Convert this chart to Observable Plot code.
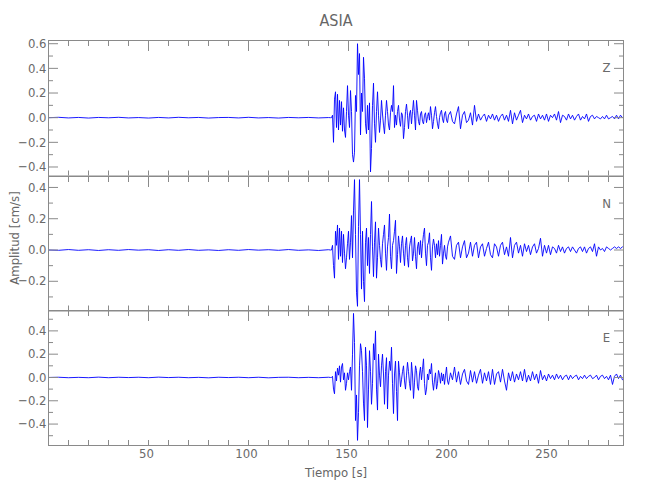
<!DOCTYPE html>
<html><head><meta charset="utf-8">
<script src="https://cdn.jsdelivr.net/npm/d3@7"></script>
<script src="https://cdn.jsdelivr.net/npm/@observablehq/plot@0.6"></script>
<style>
body{margin:0;background:#fff;}
#wrap{position:relative;width:650px;height:500px;font-family:"Liberation Sans Narrow","DejaVu Sans Condensed",sans-serif;color:#666;}
.abs{position:absolute;white-space:nowrap;}
.panel{position:absolute;left:0;}
</style></head><body><div id="wrap"></div>
<script>
// ---- data ----
const title = "ASIA";
const components = ["Z", "N", "E"];
const xLabel = "Tiempo [s]";
const yLabel = "Amplitud [cm/s]";

// sampling grids (seconds)
const preStart = 0, preStep = 5;      // 0 .. 140
const earlyStart = 141, earlyStep = 0.5; // 141 .. 199.5
const codaStart = 200, codaStep = 1;   // 200 .. 287

const zPre = [0, 0.003, -0.002, 0.002, -0.003, 0.002, -0.001, 0.003, -0.002, 0.001,
  -0.003, 0.002, -0.002, 0.003, -0.001, 0.002, -0.003, 0.001, 0.002, -0.002,
  0.003, -0.002, 0.001, -0.003, 0.002, -0.001, 0.002, -0.002, 0.001];
const nPre = [0, -0.002, 0.003, -0.002, 0.002, -0.003, 0.002, -0.002, 0.003, -0.001,
  0.002, -0.003, 0.002, -0.002, 0.003, -0.002, 0.001, -0.003, 0.002, -0.002,
  0.003, -0.001, 0.002, -0.002, 0.003, -0.002, 0.001, -0.003, 0.002];
const ePre = [0, 0.002, -0.002, 0.001, -0.002, 0.003, -0.002, 0.002, -0.001, 0.002,
  -0.002, 0.003, -0.001, 0.002, -0.002, 0.001, -0.003, 0.002, -0.001, 0.002,
  -0.002, 0.002, -0.003, 0.001, 0.002, -0.002, 0.001, -0.002, 0.002];

const zEarly = [
  0.00, 0.00, 0.02, -0.20, 0.15, 0.21, -0.08, 0.19, -0.10, 0.14,
  -0.06, 0.13, -0.11, 0.08, -0.10, -0.16, 0.05, 0.26, 0.02, -0.08,
  0.22, 0.05, -0.30, -0.36, -0.28, 0.18, 0.05, 0.60, 0.35, 0.52,
  -0.14, 0.20, 0.05, 0.49, 0.32, -0.05, -0.13, 0.10, -0.10, 0.12,
  -0.44, -0.25, 0.10, 0.28, -0.05, -0.20, 0.05, 0.21, 0.02, -0.12,
  -0.02, 0.14, 0.03, -0.06, -0.13, 0.02, 0.14, 0.05, -0.06, -0.10,
  0.04, 0.10, 0.05, 0.26, -0.08, 0.02, -0.06, 0.05, 0.10, -0.02,
  -0.07, 0.04, 0.02, -0.17, -0.08, 0.05, 0.11, 0.02, -0.09, 0.03,
  0.06, -0.05, 0.05, 0.14, 0.02, -0.10, 0.14, 0.06, -0.03, -0.06,
  0.03, 0.05, -0.03, -0.05, 0.02, 0.04, -0.04, 0.01, 0.04, -0.02,
  0.09, 0.02, -0.09, -0.03, 0.04, 0.09, 0.01, -0.05, -0.09, 0.00,
  0.04, 0.06, -0.01, -0.04, 0.03, 0.05, -0.02, -0.04];
const nEarly = [
  0.00, 0.00, 0.03, -0.10, -0.18, 0.12, 0.03, 0.16, -0.06, 0.14,
  -0.04, 0.12, -0.08, 0.10, -0.02, -0.12, -0.05, 0.04, 0.12, -0.06,
  0.05, 0.22, -0.05, 0.25, 0.45, 0.10, -0.27, -0.36, 0.15, 0.45,
  0.10, -0.25, 0.12, -0.20, -0.33, 0.05, 0.14, -0.10, 0.08, -0.15,
  0.10, 0.31, 0.02, -0.17, 0.05, 0.18, -0.18, -0.05, 0.14, 0.03,
  -0.06, -0.11, 0.04, 0.10, 0.16, -0.02, -0.13, 0.02, 0.08, 0.23,
  -0.04, -0.12, 0.03, 0.06, 0.12, 0.19, -0.15, -0.03, 0.09, 0.02,
  -0.08, 0.04, 0.09, -0.02, -0.10, 0.03, 0.08, -0.05, -0.11, 0.02,
  0.06, 0.09, -0.07, -0.02, 0.08, -0.04, -0.12, 0.02, 0.05, -0.03,
  0.06, -0.05, 0.04, 0.10, 0.14, -0.02, -0.10, 0.03, 0.05, 0.11,
  -0.05, -0.13, 0.02, 0.07, 0.03, -0.05, 0.04, -0.03, 0.06, -0.04,
  0.03, 0.10, -0.09, -0.02, 0.03, -0.04, -0.06, 0.02];
const eEarly = [
  0.00, 0.00, 0.01, -0.10, -0.14, 0.05, -0.03, 0.08, 0.02, 0.10,
  -0.04, 0.09, 0.12, -0.02, 0.04, -0.11, -0.05, 0.04, -0.02, 0.05,
  0.09, -0.11, 0.20, 0.55, 0.30, -0.37, -0.15, -0.54, -0.30, 0.10,
  0.29, 0.23, 0.05, -0.22, -0.37, 0.26, 0.10, -0.43, -0.10, 0.23,
  0.05, -0.23, -0.05, 0.29, 0.15, 0.40, -0.10, -0.28, 0.20, 0.02,
  -0.08, 0.10, 0.20, 0.03, -0.23, 0.05, 0.17, -0.27, 0.02, 0.14,
  0.06, 0.26, -0.05, -0.31, 0.03, 0.14, -0.12, -0.37, 0.14, 0.04,
  -0.08, -0.02, 0.05, 0.10, -0.03, -0.10, 0.02, 0.13, 0.05, -0.05,
  -0.11, 0.13, 0.03, -0.18, -0.04, 0.10, 0.06, -0.08, -0.11, 0.03,
  0.09, -0.02, 0.07, 0.16, -0.05, -0.15, -0.10, 0.03, -0.02, 0.07,
  0.03, 0.12, -0.04, -0.11, -0.02, 0.04, -0.10, -0.05, 0.06, 0.02,
  -0.05, 0.04, -0.03, 0.03, -0.06, 0.02, 0.09, -0.03];

const zCoda = [
  0.02, 0.05, -0.03, -0.05, 0.03, 0.09, -0.09, 0.02, 0.05, -0.04,
  -0.02, 0.04, -0.06, 0.10, -0.03, 0.03, -0.02, 0.01, 0.03, -0.03,
  0.02, -0.01, 0.03, -0.02, 0.02, -0.03, 0.01, 0.03, -0.02, 0.02,
  -0.03, 0.06, -0.05, 0.04, -0.02, 0.02, 0.06, -0.04, 0.02, -0.01,
  0.03, -0.02, 0.01, 0.02, -0.03, 0.03, -0.01, 0.02, -0.02, 0.03,
  -0.03, 0.02, 0.00, 0.03, -0.02, 0.05, -0.04, 0.02, 0.01, -0.02,
  0.03, -0.01, 0.02, -0.02, 0.01, 0.03, -0.02, 0.01, -0.01, 0.03,
  -0.03, 0.01, 0.02, -0.01, 0.01, 0.00, -0.01, 0.01, -0.01, 0.02,
  -0.01, 0.00, 0.01, -0.01, 0.02, -0.01, 0.02, 0.00];
const nCoda = [
  0.05, 0.09, -0.04, -0.06, 0.03, 0.05, -0.05, 0.02, 0.06, -0.05,
  -0.02, 0.05, -0.04, 0.03, 0.05, -0.05, 0.02, 0.04, -0.04, 0.01,
  0.05, -0.03, -0.05, 0.04, 0.02, -0.04, 0.03, 0.05, -0.03, 0.02,
  -0.04, 0.08, -0.05, 0.03, 0.05, -0.02, 0.03, -0.04, 0.04, -0.01,
  0.03, -0.03, 0.02, 0.04, -0.02, 0.01, 0.075, -0.04, 0.03, -0.02,
  0.03, -0.03, 0.02, 0.01, -0.02, 0.03, -0.01, 0.02, -0.02, 0.01,
  0.02, -0.01, 0.02, 0.00, -0.02, 0.01, 0.02, -0.01, 0.02, -0.02,
  0.01, 0.02, -0.01, 0.04, -0.04, 0.02, 0.00, 0.01, -0.01, 0.02,
  0.01, 0.00, 0.01, 0.02, 0.01, 0.02, 0.01, 0.02];
const eCoda = [
  -0.06, 0.04, -0.02, 0.09, -0.04, 0.05, -0.06, 0.03, 0.07, -0.03,
  -0.06, 0.06, -0.04, 0.05, -0.05, 0.02, 0.07, -0.05, 0.04, -0.03,
  0.05, -0.06, 0.07, -0.06, 0.03, 0.05, -0.04, 0.07, -0.03, -0.11,
  0.04, -0.03, 0.05, -0.04, 0.03, -0.02, 0.05, -0.03, 0.07, -0.04,
  0.02, -0.03, 0.05, -0.02, 0.03, -0.05, 0.06, -0.02, 0.02, -0.03,
  0.03, -0.01, 0.02, -0.02, 0.03, -0.01, 0.02, -0.02, 0.01, 0.02,
  -0.02, 0.02, -0.01, 0.01, 0.02, -0.02, 0.01, -0.01, 0.02, -0.01,
  0.01, 0.02, -0.01, 0.00, 0.02, -0.02, 0.01, 0.02, -0.01, 0.01,
  -0.02, 0.02, -0.06, 0.01, 0.03, -0.01, 0.02, -0.02];

// tick values
const xMajorTicks = [50, 100, 150, 200, 250];
const xMinorTicks = [10, 20, 30, 40, 60, 70, 80, 90, 110, 120, 130, 140, 160, 170, 180, 190, 210, 220, 230, 240, 260, 270, 280];
const yMajorTicks = [
  [-0.4, -0.2, 0.0, 0.2, 0.4, 0.6],
  [-0.2, 0.0, 0.2, 0.4],
  [-0.4, -0.2, 0.0, 0.2, 0.4]];
const yMinorTicks = [
  [-0.3, -0.1, 0.1, 0.3, 0.5],
  [-0.3, -0.1, 0.1, 0.3],
  [-0.5, -0.3, -0.1, 0.1, 0.3, 0.5]];

// scale domains
const xDomain = [0, 287.5];
const yDomains = [[-0.473, 0.626], [-0.39, 0.47], [-0.584, 0.575]];

// ---- layout ----
const panelTop = [40, 175.5, 310];
const panelHeight = [135.5, 134.5, 135];
const FONT = '"Liberation Sans Narrow","DejaVu Sans Condensed",sans-serif';
const INK = "#6a6a6a";

function series(pre, early, coda) {
  const rows = [];
  pre.forEach((v, i) => rows.push({t: preStart + i * preStep, v}));
  early.forEach((v, i) => rows.push({t: earlyStart + i * earlyStep, v}));
  coda.forEach((v, i) => rows.push({t: codaStart + i * codaStep, v}));
  return rows;
}
const traces = [series(zPre, zEarly, zCoda), series(nPre, nEarly, nCoda), series(ePre, eEarly, eCoda)];

const wrap = document.getElementById("wrap");
const fmt = d3.format(".1f");
const blank = () => "";

components.forEach((comp, i) => {
  const last = i === 2;
  const mt = 6, mb = last ? 40 : 6;
  const marks = [
    Plot.line(traces[i], {x: "t", y: "v", stroke: "#0000ff", strokeWidth: 0.9, clip: true}),
    Plot.frame({stroke: "#8a8a8a"}),
    // y ticks (inward, both sides)
    Plot.axisY(yMajorTicks[i], {anchor: "left", tickSize: -10, tickFormat: blank, label: null, stroke: "#8a8a8a"}),
    Plot.axisY(yMinorTicks[i], {anchor: "left", tickSize: -5, tickFormat: blank, label: null, stroke: "#8a8a8a"}),
    Plot.axisY(yMajorTicks[i], {anchor: "right", tickSize: -10, tickFormat: blank, label: null, stroke: "#8a8a8a"}),
    Plot.axisY(yMinorTicks[i], {anchor: "right", tickSize: -5, tickFormat: blank, label: null, stroke: "#8a8a8a"}),
    Plot.axisY(yMajorTicks[i], {anchor: "left", tickSize: 0, tickPadding: 2, tickFormat: fmt, label: null, fill: INK}),
    // x ticks (inward, top and bottom)
    Plot.axisX(xMajorTicks, {anchor: "top", tickSize: -10, tickFormat: blank, label: null, stroke: "#8a8a8a"}),
    Plot.axisX(xMinorTicks, {anchor: "top", tickSize: -5, tickFormat: blank, label: null, stroke: "#8a8a8a"}),
    Plot.axisX(xMajorTicks, {anchor: "bottom", tickSize: -5, tickFormat: blank, label: null, stroke: "#8a8a8a"}),
    Plot.axisX(xMinorTicks, {anchor: "bottom", tickSize: -5, tickFormat: blank, label: null, stroke: "#8a8a8a"}),
    Plot.text([comp], {frameAnchor: "top-right", dx: -17, dy: 22, text: d => d, textAnchor: "middle", fontSize: 13, fill: INK})
  ];
  if (last) marks.push(Plot.axisX(xMajorTicks, {anchor: "bottom", tickSize: 0, tickPadding: 3, dx: -2, tickFormat: d => String(d), label: null, fill: INK}));
  const chart = Plot.plot({
    width: 650,
    height: mt + panelHeight[i] + mb,
    marginLeft: 48, marginRight: 27, marginTop: mt, marginBottom: mb,
    x: {domain: xDomain},
    y: {domain: yDomains[i]},
    style: {background: "transparent", overflow: "visible", fontFamily: FONT, fontSize: "13px", color: INK},
    marks
  });
  chart.classList.add("panel");
  chart.style.top = (panelTop[i] - mt) + "px";
  wrap.appendChild(chart);
});

function addText(txt, x, y, size, rotate) {
  const d = document.createElement("div");
  d.className = "abs";
  d.textContent = txt;
  d.style.fontSize = size + "px";
  d.style.left = x + "px";
  d.style.top = y + "px";
  d.style.lineHeight = "1";
  d.style.transform = "translate(-50%,-50%)" + (rotate ? " rotate(-90deg)" : "");
  wrap.appendChild(d);
}
addText(title, 336, 21, 16, false);
addText(xLabel, 336, 472, 13, false);
addText(yLabel, 14, 238, 13, true);
</script></body></html>
